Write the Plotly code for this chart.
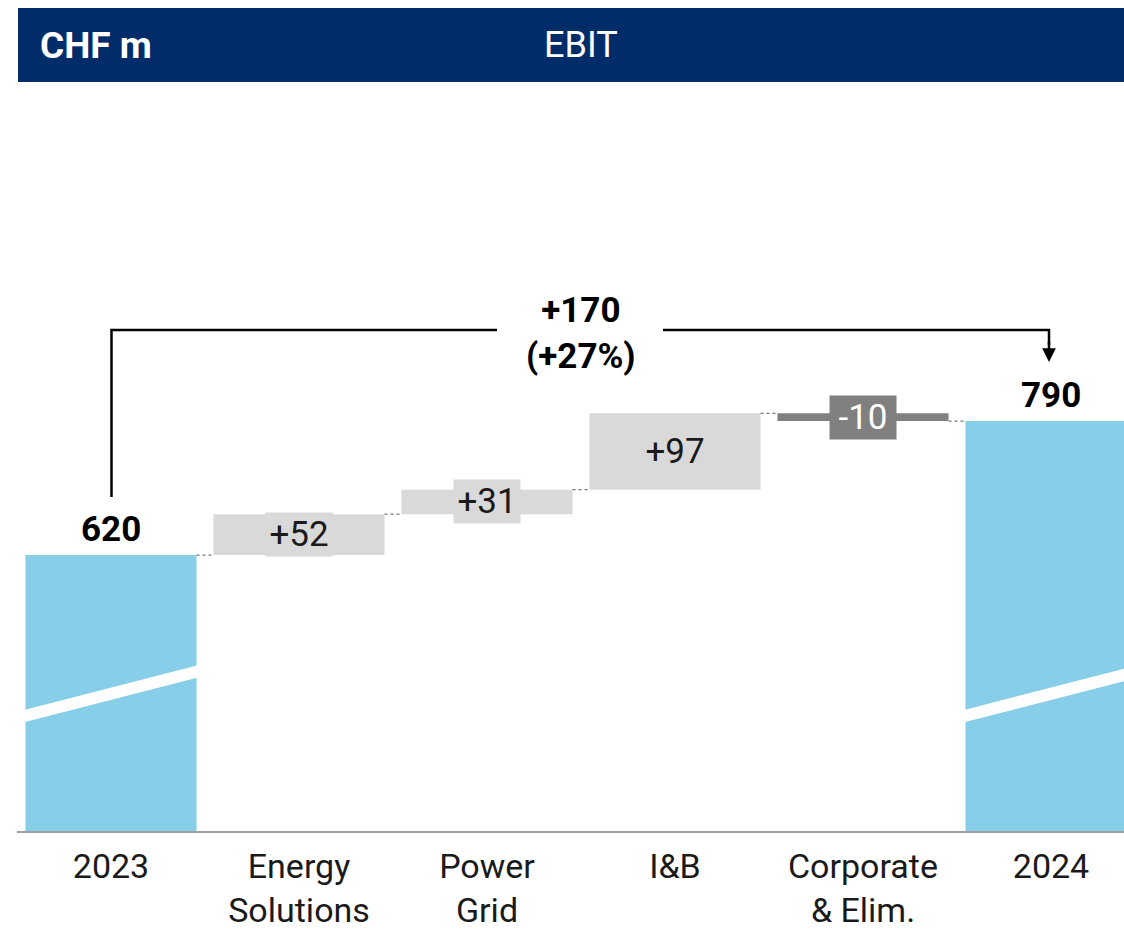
"""EBIT bridge 2023 -> 2024 (CHF m), waterfall with a broken axis."""

import numpy as np
import plotly.graph_objects as go

categories = ["2023", "Energy<br>Solutions", "Power<br>Grid", "I&B", "Corporate<br>& Elim.", "2024"]
start_value = 620
deltas = [52, 31, 97, -10]
end_value = 790
delta_labels = ["+52", "+31", "+97", "-10"]
change_label = "+170<br>(+27%)"

NAVY = "#002D6A"
BLUE = "#87CEE8"
LIGHT = "#D9D9D9"
DARK = "#808080"
FONT = "Roboto"

W, H = 1124, 929
LEFT, TOP, BOTTOM = 17, 100, 831
AXIS_MIN = 270
SCALE = 134 / 170  # px per CHF m
STEP = 188  # px per category


def px_x(x):
    return (x - LEFT) / (W - LEFT)


def px_y(y):
    return (BOTTOM - y) / (BOTTOM - TOP)


levels = np.concatenate([[start_value], start_value + np.cumsum(deltas)])
bases = [0] + list(levels[:-1]) + [0]
heights = [start_value] + deltas + [end_value]
colors = [BLUE] + [LIGHT if d > 0 else DARK for d in deltas] + [BLUE]

fig = go.Figure(
    go.Bar(
        x=categories,
        y=heights,
        base=bases,
        marker=dict(color=colors, line=dict(width=0)),
        width=0.91,
        hoverinfo="skip",
    )
)

shapes = []
annotations = []

# header band
shapes.append(dict(type="rect", xref="paper", yref="paper", x0=px_x(18), x1=1,
                   y0=px_y(82), y1=px_y(8), fillcolor=NAVY, line=dict(width=0), layer="above"))
annotations.append(dict(xref="paper", yref="paper", x=px_x(38), y=px_y(46), text="<b>CHF m</b>",
                        showarrow=False, xanchor="left", yanchor="middle",
                        font=dict(family=FONT, size=37, color="white")))
annotations.append(dict(xref="paper", yref="paper", x=px_x(581), y=px_y(45), text="EBIT",
                        showarrow=False, xanchor="center", yanchor="middle",
                        font=dict(family=FONT, size=36, color="white")))

# dashed connectors between bars
for i in range(len(categories) - 1):
    shapes.append(dict(type="line", xref="x", yref="y", x0=i + 0.455, x1=i + 0.545,
                       y0=levels[i], y1=levels[i], line=dict(color="#555555", width=1, dash="dot")))

# axis-break stripes on the total bars
for xi in (0, 5):
    shapes.append(dict(type="line", xref="x", yref="paper", x0=xi - 0.47, x1=xi + 0.47,
                       y0=px_y(716.5), y1=px_y(671), line=dict(color="white", width=12)))

# delta labels
for i, (d, lab) in enumerate(zip(deltas, delta_labels)):
    mid = levels[i] + d / 2
    dark = d < 0
    annotations.append(dict(x=i + 1, y=mid, text=lab, showarrow=False,
                            xanchor="center", yanchor="middle", width=64, height=41,
                            bgcolor=DARK if dark else LIGHT, borderpad=1,
                            font=dict(family=FONT, size=35,
                                      color="white" if dark else "#1a1a1a")))

# total labels
for xi, val in ((0, start_value), (len(categories) - 1, end_value)):
    annotations.append(dict(x=xi, y=val, text=f"<b>{val}</b>", showarrow=False,
                            xanchor="center", yanchor="bottom", yshift=3,
                            font=dict(family=FONT, size=35, color="black")))

# bracket with change
line_style = dict(color="black", width=2.5)
shapes.append(dict(type="path", xref="paper", yref="paper",
                   path=f"M {px_x(111.5)},{px_y(497)} L {px_x(111.5)},{px_y(330)} L {px_x(497)},{px_y(330)}",
                   line=line_style))
shapes.append(dict(type="path", xref="paper", yref="paper",
                   path=f"M {px_x(663)},{px_y(330)} L {px_x(1049)},{px_y(330)} L {px_x(1049)},{px_y(345)}",
                   line=line_style))
annotations.append(dict(xref="paper", yref="paper", x=px_x(1049), y=px_y(362), ax=0, ay=-22,
                        text="", showarrow=True,
                        arrowhead=2, arrowsize=1.1, arrowwidth=2.5, arrowcolor="black"))
annotations.append(dict(xref="paper", yref="paper", x=px_x(581), y=px_y(333), text=f"<b>{change_label}</b>",
                        showarrow=False, xanchor="center", yanchor="middle",
                        font=dict(family=FONT, size=35, color="black")))

fig.update_layout(
    width=W,
    height=H,
    margin=dict(l=LEFT, r=0, t=TOP, b=H - BOTTOM, pad=0),
    paper_bgcolor="white",
    plot_bgcolor="white",
    showlegend=False,
    shapes=shapes,
    annotations=annotations,
    xaxis=dict(
        type="category",
        range=[-0.5, -0.5 + (W - LEFT) / STEP],
        showline=True,
        linecolor="#A0A0A0",
        linewidth=2,
        ticks="",
        ticklabelstandoff=4,
        showgrid=False,
        tickfont=dict(family=FONT, size=34, color="#1a1a1a"),
        fixedrange=True,
    ),
    yaxis=dict(
        range=[AXIS_MIN, AXIS_MIN + (BOTTOM - TOP) / SCALE],
        visible=False,
        fixedrange=True,
    ),
)

# drop the default body margin so the figure sits at the page corner
fig.write_html(
    "out.html",
    config={"displayModeBar": False},
    post_script="document.body.style.margin = '0';",
)
